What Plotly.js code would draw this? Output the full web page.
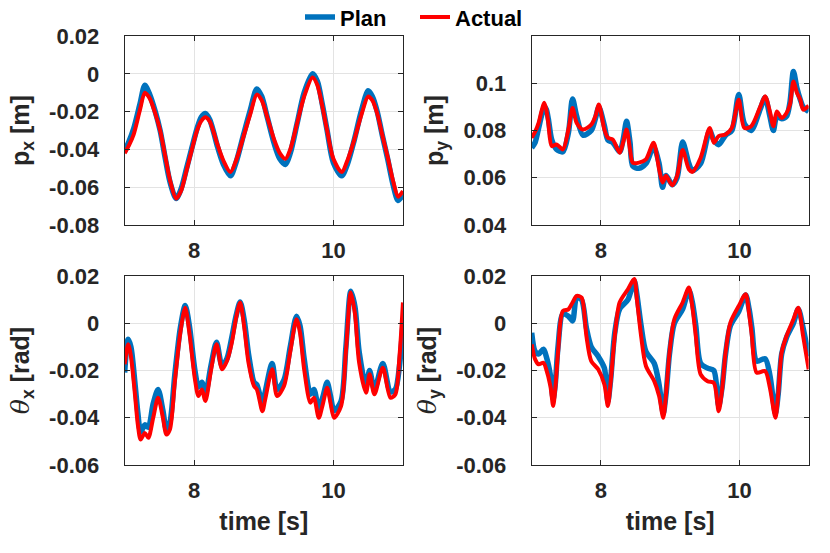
<!DOCTYPE html>
<html>
<head>
<meta charset="utf-8">
<script src="https://cdn.plot.ly/plotly-3.0.1.min.js"></script>
<style>html,body{margin:0;padding:0;background:#fff}#plot{width:830px;height:553px}</style>
</head>
<body>
<div id="plot"></div>
<script>
// ---------- data ----------
const seriesNames = ["Plan", "Actual"];
const xTickVals = [8, 10];
const xTickText = ["8", "10"];
const yTickValsPx = [-0.08, -0.06, -0.04, -0.02, 0, 0.02];
const yTickTextPx = ["-0.08", "-0.06", "-0.04", "-0.02", "0", "0.02"];
const yTickValsPy = [0.04, 0.06, 0.08, 0.1];
const yTickTextPy = ["0.04", "0.06", "0.08", "0.1"];
const yTickValsTh = [-0.06, -0.04, -0.02, 0, 0.02];
const yTickTextTh = ["-0.06", "-0.04", "-0.02", "0", "0.02"];

const tPx = [7.00,7.06,7.13,7.22,7.29,7.36,7.44,7.51,7.58,7.65,7.74,7.81,7.89,7.96,8.04,8.10,8.16,8.22,8.28,8.33,8.42,8.52,8.60,8.71,8.80,8.90,8.97,9.05,9.15,9.23,9.31,9.38,9.48,9.58,9.70,9.77,9.84,9.91,10.00,10.12,10.20,10.30,10.40,10.50,10.56,10.63,10.70,10.78,10.86,10.93,11.00];
const pxActual = [-0.042,-0.038,-0.032,-0.019,-0.010,-0.013,-0.021,-0.030,-0.043,-0.056,-0.066,-0.062,-0.051,-0.041,-0.030,-0.025,-0.023,-0.025,-0.031,-0.037,-0.046,-0.052,-0.046,-0.033,-0.022,-0.011,-0.014,-0.023,-0.035,-0.042,-0.045,-0.040,-0.026,-0.012,-0.002,-0.006,-0.017,-0.030,-0.045,-0.052,-0.046,-0.035,-0.022,-0.012,-0.014,-0.021,-0.032,-0.044,-0.057,-0.065,-0.062];
const pxPlan = [-0.041,-0.036,-0.029,-0.016,-0.006,-0.011,-0.020,-0.030,-0.044,-0.057,-0.066,-0.061,-0.050,-0.040,-0.029,-0.023,-0.021,-0.024,-0.031,-0.038,-0.048,-0.054,-0.047,-0.032,-0.020,-0.008,-0.012,-0.023,-0.037,-0.045,-0.048,-0.042,-0.026,-0.010,0.000,-0.004,-0.016,-0.030,-0.047,-0.054,-0.048,-0.035,-0.020,-0.009,-0.012,-0.020,-0.032,-0.045,-0.059,-0.067,-0.064];

const tPy = [7.00,7.05,7.10,7.14,7.18,7.21,7.24,7.29,7.36,7.45,7.53,7.59,7.65,7.74,7.86,7.92,7.97,8.05,8.10,8.17,8.27,8.32,8.37,8.42,8.46,8.55,8.65,8.76,8.84,8.89,8.94,9.03,9.10,9.18,9.27,9.32,9.44,9.57,9.63,9.70,9.80,9.89,9.99,10.07,10.17,10.30,10.37,10.44,10.49,10.54,10.61,10.68,10.73,10.78,10.83,10.88,10.92,11.00];
const pyActual = [0.0769,0.0795,0.0832,0.0880,0.0917,0.0890,0.0832,0.0734,0.0741,0.0720,0.0804,0.0895,0.0832,0.0804,0.0825,0.0860,0.0910,0.0804,0.0769,0.0762,0.0706,0.0750,0.0804,0.0720,0.0664,0.0664,0.0678,0.0748,0.0636,0.0580,0.0608,0.0568,0.0608,0.0717,0.0636,0.0625,0.0685,0.0811,0.0748,0.0776,0.0783,0.0811,0.0930,0.0811,0.0818,0.0900,0.0945,0.0880,0.0818,0.0881,0.0853,0.0874,0.0910,0.1007,0.0960,0.0930,0.0888,0.0905];
const pyPlan = [0.0727,0.0750,0.0810,0.0860,0.0900,0.0890,0.0850,0.0760,0.0720,0.0710,0.0790,0.0933,0.0860,0.0780,0.0800,0.0850,0.0900,0.0820,0.0760,0.0750,0.0710,0.0760,0.0839,0.0750,0.0650,0.0640,0.0660,0.0730,0.0660,0.0560,0.0610,0.0570,0.0600,0.0751,0.0660,0.0630,0.0660,0.0800,0.0760,0.0740,0.0780,0.0800,0.0952,0.0830,0.0800,0.0890,0.0940,0.0860,0.0800,0.0860,0.0850,0.0860,0.0920,0.1050,0.0980,0.0930,0.0900,0.0880];

const tThx = [7.00,7.05,7.09,7.15,7.19,7.23,7.29,7.34,7.41,7.48,7.55,7.60,7.65,7.72,7.80,7.87,7.93,8.01,8.06,8.11,8.16,8.24,8.32,8.40,8.47,8.54,8.60,8.66,8.72,8.78,8.86,8.90,8.98,9.02,9.12,9.19,9.29,9.38,9.47,9.52,9.58,9.67,9.72,9.79,9.85,9.91,9.96,10.01,10.11,10.18,10.25,10.31,10.37,10.47,10.52,10.59,10.71,10.82,10.89,10.95,11.00];
const thxActual = [-0.0174,-0.0089,-0.0140,-0.0308,-0.0430,-0.0492,-0.0464,-0.0485,-0.0400,-0.0315,-0.0400,-0.0471,-0.0450,-0.0250,-0.0040,0.0066,-0.0040,-0.0237,-0.0308,-0.0280,-0.0329,-0.0200,-0.0089,-0.0195,-0.0160,-0.0082,0.0020,0.0088,-0.0020,-0.0167,-0.0266,-0.0280,-0.0372,-0.0322,-0.0195,-0.0308,-0.0266,-0.0120,0.0017,-0.0040,-0.0195,-0.0336,-0.0315,-0.0400,-0.0340,-0.0273,-0.0340,-0.0400,-0.0351,-0.0120,0.0130,0.0040,-0.0167,-0.0294,-0.0216,-0.0301,-0.0188,-0.0315,-0.0301,-0.0139,0.0088];
const thxPlan = [-0.0209,-0.0068,-0.0100,-0.0260,-0.0380,-0.0460,-0.0430,-0.0440,-0.0340,-0.0280,-0.0370,-0.0450,-0.0420,-0.0220,-0.0020,0.0075,-0.0010,-0.0200,-0.0270,-0.0250,-0.0300,-0.0180,-0.0080,-0.0180,-0.0150,-0.0060,0.0030,0.0090,0.0010,-0.0130,-0.0250,-0.0260,-0.0340,-0.0290,-0.0170,-0.0280,-0.0240,-0.0100,0.0030,-0.0010,-0.0150,-0.0300,-0.0280,-0.0360,-0.0310,-0.0250,-0.0310,-0.0370,-0.0330,-0.0100,0.0135,0.0070,-0.0120,-0.0270,-0.0200,-0.0280,-0.0170,-0.0290,-0.0280,-0.0180,0.0000];

const tThy = [7.00,7.05,7.10,7.17,7.21,7.27,7.31,7.34,7.38,7.45,7.53,7.59,7.65,7.72,7.79,7.86,7.96,8.05,8.10,8.14,8.20,8.27,8.39,8.48,8.52,8.58,8.65,8.77,8.84,8.90,8.94,8.99,9.06,9.18,9.27,9.32,9.37,9.44,9.54,9.63,9.70,9.75,9.80,9.87,9.99,10.09,10.14,10.18,10.25,10.37,10.44,10.52,10.56,10.61,10.68,10.78,10.85,10.92,11.00];
const thyActual = [-0.0089,-0.0153,-0.0174,-0.0167,-0.0195,-0.0266,-0.0350,-0.0280,-0.0124,0.0052,0.0059,0.0088,0.0116,0.0109,-0.0054,-0.0160,-0.0195,-0.0259,-0.0350,-0.0250,-0.0054,0.0088,0.0144,0.0187,0.0100,-0.0054,-0.0181,-0.0245,-0.0308,-0.0400,-0.0300,-0.0124,0.0017,0.0088,0.0151,0.0070,-0.0054,-0.0216,-0.0245,-0.0252,-0.0372,-0.0280,-0.0124,0.0003,0.0073,0.0123,0.0040,-0.0054,-0.0209,-0.0202,-0.0273,-0.0400,-0.0300,-0.0124,-0.0054,0.0017,0.0066,-0.0054,-0.0195];
const thyPlan = [-0.0040,-0.0120,-0.0130,-0.0110,-0.0140,-0.0220,-0.0320,-0.0260,-0.0100,0.0040,0.0030,0.0010,0.0110,0.0100,-0.0020,-0.0100,-0.0140,-0.0190,-0.0330,-0.0240,-0.0040,0.0060,0.0100,0.0180,0.0120,-0.0010,-0.0120,-0.0170,-0.0260,-0.0380,-0.0300,-0.0130,0.0000,0.0060,0.0140,0.0090,-0.0010,-0.0170,-0.0190,-0.0200,-0.0350,-0.0270,-0.0130,-0.0010,0.0050,0.0120,0.0060,-0.0020,-0.0160,-0.0150,-0.0220,-0.0380,-0.0300,-0.0130,-0.0060,0.0000,0.0060,-0.0020,-0.0140];

// ---------- styling ----------
const planColor = "#0072BD";
const actualColor = "#FF0000";
const axColor = "#262626";
const fontFam = "Liberation Sans, Arial, Helvetica, sans-serif";

function pair(t, plan, actual, xa, ya, showLegend) {
  return [
    {x: t, y: plan, xaxis: xa, yaxis: ya, type: "scatter", mode: "lines", name: seriesNames[0],
     line: {color: planColor, width: 5.5, shape: "spline", smoothing: 0.8}, showlegend: showLegend},
    {x: t, y: actual, xaxis: xa, yaxis: ya, type: "scatter", mode: "lines", name: seriesNames[1],
     line: {color: actualColor, width: 4, shape: "spline", smoothing: 0.8}, showlegend: showLegend}
  ];
}

const data = [].concat(
  pair(tPx, pxPlan, pxActual, "x", "y", true),
  pair(tPy, pyPlan, pyActual, "x2", "y2", false),
  pair(tThx, thxPlan, thxActual, "x3", "y3", false),
  pair(tThy, thyPlan, thyActual, "x4", "y4", false)
);

const tickFont = {family: fontFam, size: 22, color: axColor, weight: 700};
const titleFont = {family: fontFam, size: 25, color: axColor, weight: 700};

function xAxis(domain, anchor, withTitle) {
  const a = {
    domain: domain, anchor: anchor, range: [7, 11],
    tickvals: xTickVals, ticktext: xTickText,
    showline: true, mirror: "ticks", linecolor: axColor, linewidth: 1,
    ticks: "inside", ticklen: 5, tickcolor: axColor,
    showgrid: true, gridcolor: "#e3e3e3", gridwidth: 1, zeroline: false,
    tickfont: tickFont, ticklabelstandoff: 6
  };
  if (withTitle) a.title = {text: "time [s]", font: titleFont, standoff: 10};
  return a;
}
function yAxis(domain, anchor, range, tv, tt, title) {
  return {
    domain: domain, anchor: anchor, range: range,
    tickvals: tv, ticktext: tt,
    showline: true, mirror: "ticks", linecolor: axColor, linewidth: 1,
    ticks: "inside", ticklen: 5, tickcolor: axColor,
    showgrid: true, gridcolor: "#e3e3e3", gridwidth: 1, zeroline: false,
    tickfont: tickFont, ticklabelstandoff: 20,
    title: {text: title, font: titleFont, standoff: 12}
  };
}

const thetaSpan = '<span style="font-family:\'DejaVu Serif\';font-style:italic;font-weight:normal">θ</span>';

const layout = {
  width: 830, height: 553,
  margin: {l: 0, r: 0, t: 0, b: 0, autoexpand: false},
  paper_bgcolor: "#ffffff", plot_bgcolor: "#ffffff",
  font: {family: fontFam, color: axColor},
  showlegend: true,
  legend: {orientation: "h", x: 0.5, xanchor: "center", y: 0.969, yanchor: "middle",
           font: {family: fontFam, size: 22, color: "#000000", weight: 700},
           bgcolor: "rgba(0,0,0,0)", itemwidth: 30, tracegroupgap: 0,
           entrywidth: 70, entrywidthmode: "pixels"},
  xaxis:  xAxis([0.1502, 0.4855], "y", false),
  xaxis2: xAxis([0.6406, 0.9743], "y2", false),
  xaxis3: xAxis([0.1502, 0.4855], "y3", true),
  xaxis4: xAxis([0.6406, 0.9743], "y4", true),
  yaxis:  yAxis([0.5931, 0.9349], "x", [-0.08, 0.02], yTickValsPx, yTickTextPx, "p<sub>x</sub> [m]"),
  yaxis2: yAxis([0.5931, 0.9349], "x2", [0.04, 0.12], yTickValsPy, yTickTextPy, "p<sub>y</sub> [m]"),
  yaxis3: yAxis([0.1591, 0.5009], "x3", [-0.06, 0.02], yTickValsTh, yTickTextTh, thetaSpan + "<sub>x</sub> [rad]"),
  yaxis4: yAxis([0.1591, 0.5009], "x4", [-0.06, 0.02], yTickValsTh, yTickTextTh, thetaSpan + "<sub>y</sub> [rad]")
};

Plotly.newPlot("plot", data, layout, {staticPlot: true, displayModeBar: false});
</script>
</body>
</html>
